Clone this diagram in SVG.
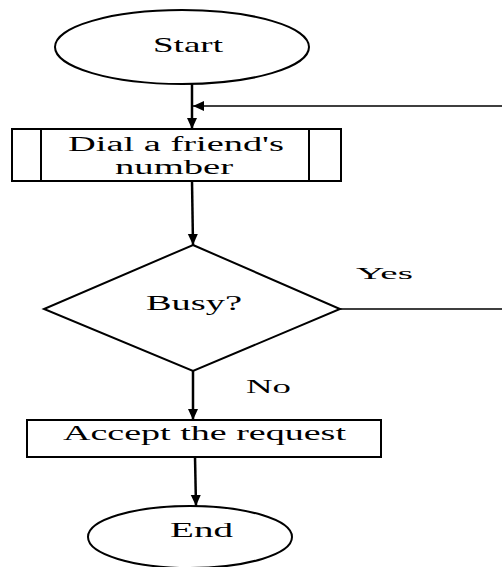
<svg xmlns="http://www.w3.org/2000/svg" width="502" height="567" viewBox="0 0 502 567">
<style>
.shape{fill:#fff;stroke:#000;stroke-width:2}
.conn{fill:none;stroke:#000;stroke-width:2.5}
.thin{fill:none;stroke:#000;stroke-width:1.6}
text{font-family:"Liberation Serif","Times New Roman",serif;fill:#000}
</style>
<defs>
<marker id="arr" markerUnits="userSpaceOnUse" markerWidth="12" markerHeight="12" viewBox="0 0 12 12" refX="11" refY="6" orient="auto">
<path d="M0,1 L11,6 L0,11 Z" fill="#000"/>
</marker>
</defs>
<rect width="502" height="567" fill="#fff"/>
<g id="connectors">
<line class="conn" x1="192" y1="84" x2="192" y2="129" marker-end="url(#arr)"/>
<line class="conn" x1="192" y1="181" x2="193" y2="245" marker-end="url(#arr)"/>
<line class="conn" x1="193" y1="371" x2="193" y2="420" marker-end="url(#arr)"/>
<line class="conn" x1="195" y1="457" x2="196" y2="506" marker-end="url(#arr)"/>
<path class="thin" d="M340,309 H512 V106 H193" marker-end="url(#arr)"/>
<text x="356" y="279" font-size="17" textLength="57" lengthAdjust="spacingAndGlyphs">Yes</text>
<text x="246" y="393" font-size="18" textLength="45" lengthAdjust="spacingAndGlyphs">No</text>
</g>
<g id="start">
<ellipse class="shape" cx="182" cy="47" rx="127" ry="37"/>
<text x="153" y="52" font-size="21" textLength="70" lengthAdjust="spacingAndGlyphs">Start</text>
</g>
<g id="dial">
<rect class="shape" x="12" y="129" width="329" height="52"/>
<line class="shape" x1="41" y1="129" x2="41" y2="181"/>
<line class="shape" x1="309" y1="129" x2="309" y2="181"/>
<text x="68" y="151" font-size="20" textLength="216" lengthAdjust="spacingAndGlyphs">Dial a friend's</text>
<text x="115" y="174" font-size="20" textLength="118" lengthAdjust="spacingAndGlyphs">number</text>
</g>
<g id="busy">
<polygon class="shape" points="193,245 340,309 193,371 44,309"/>
<text x="146" y="310" font-size="20" textLength="96" lengthAdjust="spacingAndGlyphs">Busy?</text>
</g>
<g id="accept">
<rect class="shape" x="27" y="420" width="354" height="37"/>
<text x="63" y="440" font-size="20" textLength="283" lengthAdjust="spacingAndGlyphs">Accept the request</text>
</g>
<g id="end">
<ellipse class="shape" cx="190" cy="537" rx="102" ry="31"/>
<text x="170" y="537" font-size="20" textLength="63" lengthAdjust="spacingAndGlyphs">End</text>
</g>
</svg>
